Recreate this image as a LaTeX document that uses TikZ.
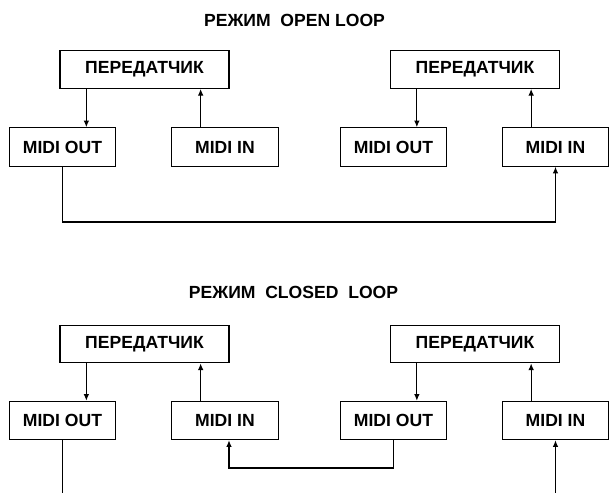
\documentclass[tikz,border=0pt]{standalone}
\usepackage{fontspec}
\setmainfont{Liberation Sans}
\usetikzlibrary{arrows.meta, positioning, calc}

\begin{document}
\begin{tikzpicture}[x=0.3mm, y=-0.3mm, >={Latex[length=2mm, width=1.7mm]},
    txbox/.style={draw, line width=1.1pt, minimum width=50.7mm, minimum height=11.3mm,
      inner sep=0pt, font=\fontsize{15}{17}\selectfont\bfseries},
    port/.style={txbox, minimum width=32mm, minimum height=11.5mm},
    heading/.style={font=\fontsize{15}{17}\selectfont\bfseries},
    link/.style={line width=0.9pt}]
    \useasboundingbox (0,0) rectangle (609,493);
    % open loop
    \node[heading] (ttlA) at (294.5,20) {РЕЖИМ\ \ OPEN LOOP};
    \node[txbox] (T1) at (144.5,69.5) {ПЕРЕДАТЧИК};
    \node[txbox] (T2) at (475,69.5) {ПЕРЕДАТЧИК};
    \node[port] (O1) at (62.5,147) {MIDI OUT};
    \node[port] (I1) at (225,147) {MIDI IN};
    \node[port] (O2) at (393.5,147) {MIDI OUT};
    \node[port] (I2) at (555.5,147) {MIDI IN};
    % closed loop
    \node[heading] (ttlB) at (293.5,292) {РЕЖИМ\ \ CLOSED\ \ LOOP};
    \node[txbox] (T3) at (144.5,344) {ПЕРЕДАТЧИК};
    \node[txbox] (T4) at (475,344) {ПЕРЕДАТЧИК};
    \node[port] (O3) at (62.5,420.5) {MIDI OUT};
    \node[port] (I3) at (225,420.5) {MIDI IN};
    \node[port] (O4) at (393.5,420.5) {MIDI OUT};
    \node[port] (I4) at (555.5,420.5) {MIDI IN};
    % transmitter <-> ports
    \foreach \t/\o/\i in {T1/O1/I1, T2/O2/I2, T3/O3/I3, T4/O4/I4} {
        \draw[link, ->] ([xshift=8.1mm]\t.south west) -- ([xshift=8.1mm]\t.south west |- \o.north);
        \draw[link, ->] ([xshift=-8.7mm]\t.south east |- \i.north) -- ([xshift=-8.7mm]\t.south east);
    }
    % loop lines
    \coordinate (lowA) at (0,222);
    \draw[link, ->] (O1.south) |- (lowA -| I2.south) -- (I2.south);
    \coordinate (lowB) at (0,468);
    \draw[link, ->] (O4.south) |- ([xshift=1.2mm]lowB -| I3.south) -- ([xshift=1.2mm]I3.south);
    \coordinate (endO3) at (62.5,493);
    \coordinate (endI4) at (555.5,493);
    \draw[link] (O3.south) -- (endO3);
    \draw[link, ->] (endI4) -- (I4.south);
\end{tikzpicture}
\end{document}
